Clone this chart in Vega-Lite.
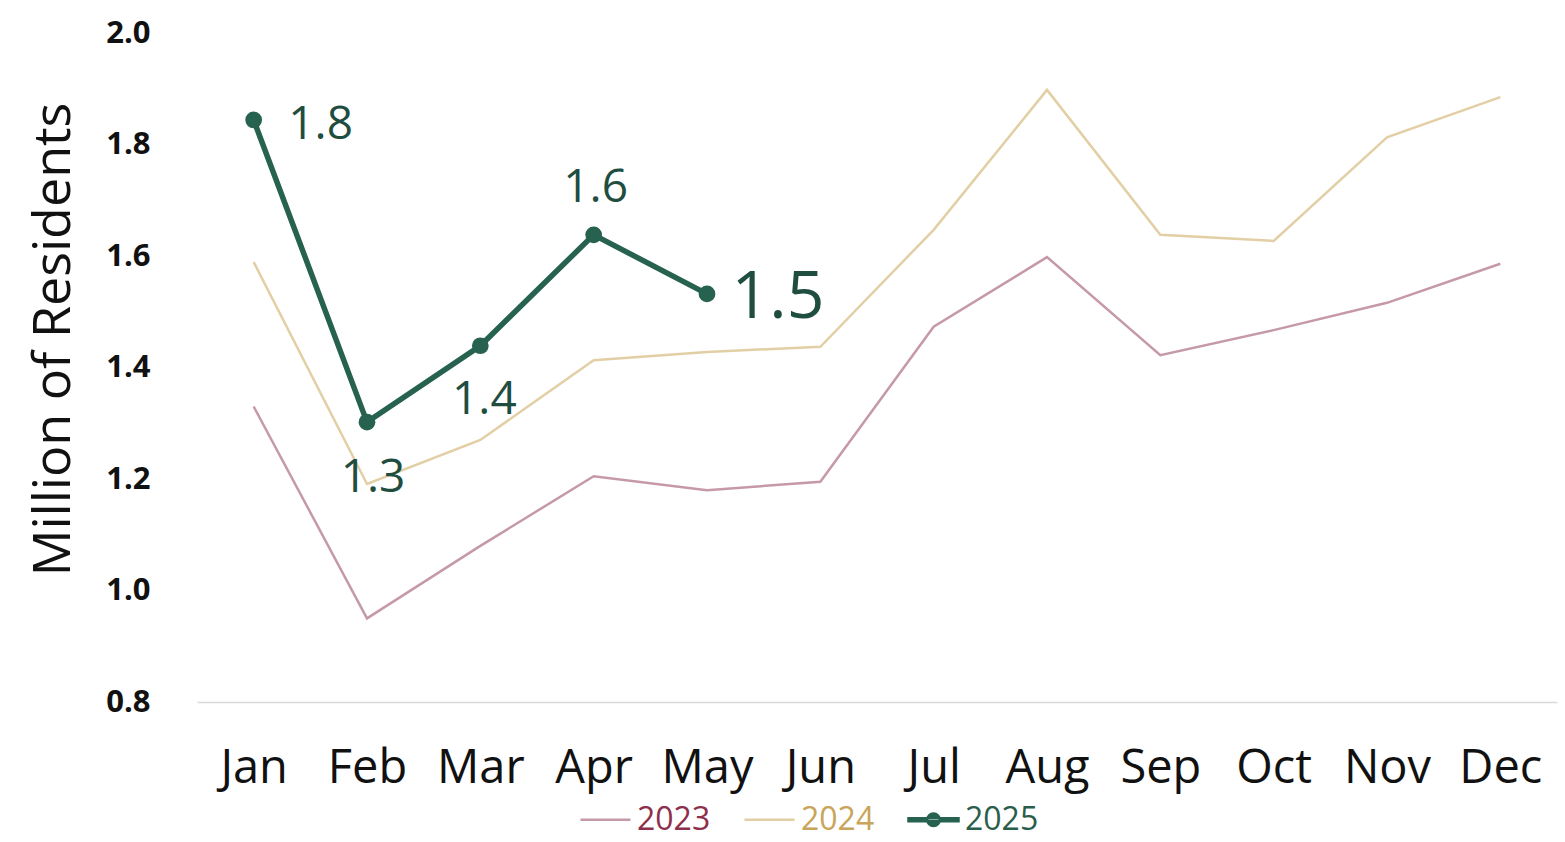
{
  "$schema": "https://vega.github.io/schema/vega-lite/v6.json",
  "width": 1360,
  "height": 669,
  "autosize": "none",
  "padding": {"left": 197, "top": 33, "right": 8, "bottom": 140},
  "config": {"view": {"stroke": null}, "font": "Open Sans"},
  "data": {
    "values": [
      {"month": "Jan", "year": "2023", "value": 1.33},
      {"month": "Feb", "year": "2023", "value": 0.95},
      {"month": "Mar", "year": "2023", "value": 1.08},
      {"month": "Apr", "year": "2023", "value": 1.205},
      {"month": "May", "year": "2023", "value": 1.18},
      {"month": "Jun", "year": "2023", "value": 1.195},
      {"month": "Jul", "year": "2023", "value": 1.473},
      {"month": "Aug", "year": "2023", "value": 1.598},
      {"month": "Sep", "year": "2023", "value": 1.422},
      {"month": "Oct", "year": "2023", "value": 1.467},
      {"month": "Nov", "year": "2023", "value": 1.516},
      {"month": "Dec", "year": "2023", "value": 1.586},
      {"month": "Jan", "year": "2024", "value": 1.589},
      {"month": "Feb", "year": "2024", "value": 1.191},
      {"month": "Mar", "year": "2024", "value": 1.27},
      {"month": "Apr", "year": "2024", "value": 1.413},
      {"month": "May", "year": "2024", "value": 1.428},
      {"month": "Jun", "year": "2024", "value": 1.437},
      {"month": "Jul", "year": "2024", "value": 1.647},
      {"month": "Aug", "year": "2024", "value": 1.898},
      {"month": "Sep", "year": "2024", "value": 1.638},
      {"month": "Oct", "year": "2024", "value": 1.627},
      {"month": "Nov", "year": "2024", "value": 1.813},
      {"month": "Dec", "year": "2024", "value": 1.885},
      {"month": "Jan", "year": "2025", "value": 1.844},
      {"month": "Feb", "year": "2025", "value": 1.302},
      {"month": "Mar", "year": "2025", "value": 1.439},
      {"month": "Apr", "year": "2025", "value": 1.638},
      {"month": "May", "year": "2025", "value": 1.532}
    ]
  },
  "encoding": {
    "x": {
      "field": "month",
      "type": "ordinal",
      "sort": ["Jan", "Feb", "Mar", "Apr", "May", "Jun", "Jul", "Aug", "Sep", "Oct", "Nov", "Dec"],
      "scale": {"type": "point", "padding": 0.5},
      "axis": {
        "title": null,
        "labelAngle": 0,
        "labelFontSize": 47,
        "labelColor": "#111111",
        "labelPadding": 43,
        "ticks": false,
        "domainColor": "#d9d9d9",
        "domainWidth": 1.5,
        "grid": false
      }
    },
    "y": {
      "field": "value",
      "type": "quantitative",
      "scale": {"domain": [0.8, 2.0], "nice": false, "zero": false},
      "axis": {
        "title": "Million of Residents",
        "titleFontSize": 52,
        "titleFontWeight": "normal",
        "titleColor": "#111111",
        "titleX": -144,
        "titleY": 306,
        "titleBaseline": "middle",
        "titleAlign": "center",
        "values": [0.8, 1.0, 1.2, 1.4, 1.6, 1.8, 2.0],
        "format": ".1f",
        "labelFontSize": 31,
        "labelFontWeight": "bold",
        "labelColor": "#111111",
        "labelPadding": 47,
        "ticks": false,
        "domain": false,
        "grid": false
      }
    }
  },
  "layer": [
    {
      "transform": [{"filter": "datum.year !== '2025'"}],
      "mark": {"type": "line", "strokeWidth": 2.5},
      "encoding": {
        "color": {
          "field": "year",
          "type": "nominal",
          "scale": {"domain": ["2023", "2024", "2025"], "range": ["#c599a9", "#e2cfa5", "#27614f"]},
          "legend": {
            "title": null,
            "orient": "none",
            "direction": "horizontal",
            "legendX": 382,
            "legendY": 760,
            "labelFontSize": 32,
            "symbolType": "stroke",
            "symbolSize": 2500,
            "symbolStrokeWidth": 2.5,
            "labelOffset": 5,
            "columnPadding": 28,
            "encode": {
              "labels": {
                "update": {
                  "fill": {"signal": "datum.label === '2023' ? '#8e2f4c' : datum.label === '2024' ? '#c9a45a' : '#2a5e4c'"}
                }
              },
              "symbols": {
                "update": {
                  "shape": {"signal": "datum.label === '2025' ? 'M-1,-0.06H1V0.06H-1ZM-0.25,0a0.25,0.25 0 1,0 0.5,0a0.25,0.25 0 1,0 -0.5,0' : 'stroke'"},
                  "fill": {"signal": "datum.label === '2025' ? '#27614f' : 'transparent'"}
                }
              }
            }
          }
        }
      }
    },
    {
      "transform": [{"filter": "datum.year === '2025'"}],
      "mark": {"type": "line", "strokeWidth": 5.5},
      "encoding": {
        "color": {"field": "year", "type": "nominal"}
      }
    },
    {
      "transform": [{"filter": "datum.year === '2025'"}],
      "mark": {"type": "point", "filled": true, "size": 280, "opacity": 1, "color": "#27614f"}
    },
    {
      "transform": [{"filter": "datum.year === '2025' && datum.month === 'Jan'"}],
      "mark": {"type": "text", "fontSize": 46, "color": "#1f4d3f", "baseline": "middle", "align": "center", "dx": 67, "dy": 5},
      "encoding": {"text": {"field": "value", "format": ".1f"}}
    },
    {
      "transform": [{"filter": "datum.year === '2025' && datum.month === 'Feb'"}],
      "mark": {"type": "text", "fontSize": 46, "color": "#1f4d3f", "baseline": "middle", "align": "center", "dx": 6, "dy": 56},
      "encoding": {"text": {"field": "value", "format": ".1f"}}
    },
    {
      "transform": [{"filter": "datum.year === '2025' && datum.month === 'Mar'"}],
      "mark": {"type": "text", "fontSize": 46, "color": "#1f4d3f", "baseline": "middle", "align": "center", "dx": 4, "dy": 54},
      "encoding": {"text": {"field": "value", "format": ".1f"}}
    },
    {
      "transform": [{"filter": "datum.year === '2025' && datum.month === 'Apr'"}],
      "mark": {"type": "text", "fontSize": 46, "color": "#1f4d3f", "baseline": "middle", "align": "center", "dx": 2, "dy": -47},
      "encoding": {"text": {"field": "value", "format": ".1f"}}
    },
    {
      "transform": [{"filter": "datum.year === '2025' && datum.month === 'May'"}],
      "mark": {"type": "text", "fontSize": 66, "color": "#1f4d3f", "baseline": "middle", "align": "center", "dx": 71, "dy": 4},
      "encoding": {"text": {"field": "value", "format": ".1f"}}
    }
  ]
}
